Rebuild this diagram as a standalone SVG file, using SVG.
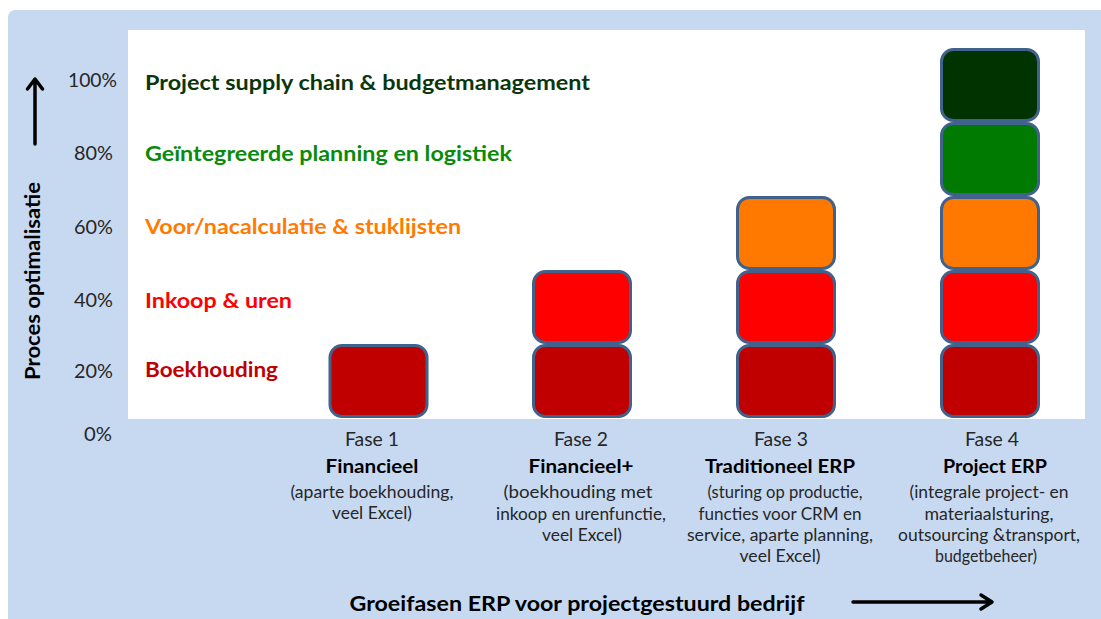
<svg xmlns="http://www.w3.org/2000/svg" width="1101" height="619" viewBox="0 0 1101 619">
<defs>
<style>
text{font-family:Lato,"Liberation Sans",sans-serif}
.pct{font-size:19px;fill:#262626;text-anchor:end}
.cat{font-size:21px;font-weight:bold}
.blk{stroke:#41628c;stroke-width:3}
.c1{fill:#c00000}.c2{fill:#ff0000}.c3{fill:#ff7800}.c4{fill:#007a00}.c5{fill:#003300}
.fase{font-size:19px;fill:#262626;text-anchor:middle}
.fb{font-size:19px;font-weight:bold;fill:#000;text-anchor:middle}
.fd{font-size:17px;fill:#262626;text-anchor:middle}
.arr{stroke:#000;stroke-width:3.5;fill:none;stroke-linecap:round;stroke-linejoin:round}
</style>
</defs>
<rect x="8" y="10" width="1100" height="620" rx="7" fill="#c6d9f1"/>
<rect x="128" y="30" width="957" height="389" fill="#ffffff"/>

<g id="y-axis">
<text class="pct" x="117" y="87" textLength="49" lengthAdjust="spacingAndGlyphs">100%</text>
<text class="pct" x="113" y="160" textLength="39" lengthAdjust="spacingAndGlyphs">80%</text>
<text class="pct" x="113" y="234" textLength="39" lengthAdjust="spacingAndGlyphs">60%</text>
<text class="pct" x="113" y="307" textLength="39" lengthAdjust="spacingAndGlyphs">40%</text>
<text class="pct" x="113" y="378" textLength="39" lengthAdjust="spacingAndGlyphs">20%</text>
<text class="pct" x="112" y="441" textLength="28" lengthAdjust="spacingAndGlyphs">0%</text>
<text x="0" y="0" transform="translate(39.5,281) rotate(-90)" font-size="20" font-weight="bold" text-anchor="middle" textLength="198" lengthAdjust="spacingAndGlyphs">Proces optimalisatie</text>
</g>

<g id="categories">
<text class="cat" x="145" y="90" fill="#0b360b" textLength="445" lengthAdjust="spacingAndGlyphs">Project supply chain &amp; budgetmanagement</text>
<text class="cat" x="145" y="161" fill="#0a8a0a" textLength="367" lengthAdjust="spacingAndGlyphs">Geïntegreerde planning en logistiek</text>
<text class="cat" x="145" y="234" fill="#ff7a00" textLength="316" lengthAdjust="spacingAndGlyphs">Voor/nacalculatie &amp; stuklijsten</text>
<text class="cat" x="145" y="308" fill="#ff0000" textLength="147" lengthAdjust="spacingAndGlyphs">Inkoop &amp; uren</text>
<text class="cat" x="145" y="377" fill="#c00000" textLength="133" lengthAdjust="spacingAndGlyphs">Boekhouding</text>
</g>

<g id="fase1-blocks">
<rect class="blk c1" x="330" y="345.5" width="97" height="71" rx="12"/>
</g>
<g id="fase2-blocks">
<rect class="blk c1" x="533.5" y="345.5" width="97" height="71" rx="12"/>
<rect class="blk c2" x="533.5" y="271.5" width="97" height="71" rx="12"/>
</g>
<g id="fase3-blocks">
<rect class="blk c1" x="737.5" y="345.5" width="97" height="71" rx="12"/>
<rect class="blk c2" x="737.5" y="271.5" width="97" height="71" rx="12"/>
<rect class="blk c3" x="737.5" y="197.5" width="97" height="71" rx="12"/>
</g>
<g id="fase4-blocks">
<rect class="blk c1" x="941.5" y="345.5" width="97" height="71" rx="12"/>
<rect class="blk c2" x="941.5" y="271.5" width="97" height="71" rx="12"/>
<rect class="blk c3" x="941.5" y="197.5" width="97" height="71" rx="12"/>
<rect class="blk c4" x="941.5" y="123.5" width="97" height="71" rx="12"/>
<rect class="blk c5" x="941.5" y="49.5" width="97" height="71" rx="12"/>
</g>

<g id="fase1-label">
<text class="fase" x="372" y="446" textLength="54" lengthAdjust="spacingAndGlyphs">Fase 1</text>
<text class="fb" x="372" y="473" textLength="93" lengthAdjust="spacingAndGlyphs">Financieel</text>
<text class="fd" x="372" y="498" textLength="163" lengthAdjust="spacingAndGlyphs">(aparte boekhouding,</text>
<text class="fd" x="372" y="519" textLength="80" lengthAdjust="spacingAndGlyphs">veel Excel)</text>
</g>
<g id="fase2-label">
<text class="fase" x="581" y="446" textLength="54" lengthAdjust="spacingAndGlyphs">Fase 2</text>
<text class="fb" x="581" y="473" textLength="105" lengthAdjust="spacingAndGlyphs">Financieel+</text>
<text class="fd" x="578" y="498" textLength="149" lengthAdjust="spacingAndGlyphs">(boekhouding met</text>
<text class="fd" x="581" y="520" textLength="170" lengthAdjust="spacingAndGlyphs">inkoop en urenfunctie,</text>
<text class="fd" x="582" y="541" textLength="80" lengthAdjust="spacingAndGlyphs">veel Excel)</text>
</g>
<g id="fase3-label">
<text class="fase" x="781" y="446" textLength="54" lengthAdjust="spacingAndGlyphs">Fase 3</text>
<text class="fb" x="780" y="473" textLength="150" lengthAdjust="spacingAndGlyphs">Traditioneel ERP</text>
<text class="fd" x="785" y="498" textLength="155" lengthAdjust="spacingAndGlyphs">(sturing op productie,</text>
<text class="fd" x="780" y="520" textLength="163" lengthAdjust="spacingAndGlyphs">functies voor CRM en</text>
<text class="fd" x="780" y="541" textLength="186" lengthAdjust="spacingAndGlyphs">service, aparte planning,</text>
<text class="fd" x="780" y="562" textLength="81" lengthAdjust="spacingAndGlyphs">veel Excel)</text>
</g>
<g id="fase4-label">
<text class="fase" x="992" y="446" textLength="54" lengthAdjust="spacingAndGlyphs">Fase 4</text>
<text class="fb" x="995" y="473" textLength="104" lengthAdjust="spacingAndGlyphs">Project ERP</text>
<text class="fd" x="989" y="498" textLength="159" lengthAdjust="spacingAndGlyphs">(integrale project- en</text>
<text class="fd" x="989" y="520" textLength="129" lengthAdjust="spacingAndGlyphs">materiaalsturing,</text>
<text class="fd" x="989" y="541" textLength="182" lengthAdjust="spacingAndGlyphs">outsourcing &amp;transport,</text>
<text class="fd" x="986" y="562" textLength="102" lengthAdjust="spacingAndGlyphs">budgetbeheer)</text>
</g>

<g id="x-title">
<text x="577" y="611" font-size="21" font-weight="bold" text-anchor="middle" textLength="455" lengthAdjust="spacingAndGlyphs">Groeifasen ERP voor projectgestuurd bedrijf</text>
</g>

<g id="connectors">
<path class="arr" d="M35 144 L35 80 M27.5 89 L35 79 L42.5 89"/>
<path class="arr" d="M853 602 L991 602 M981 595 L992 602 L981 609"/>
</g>
</svg>
